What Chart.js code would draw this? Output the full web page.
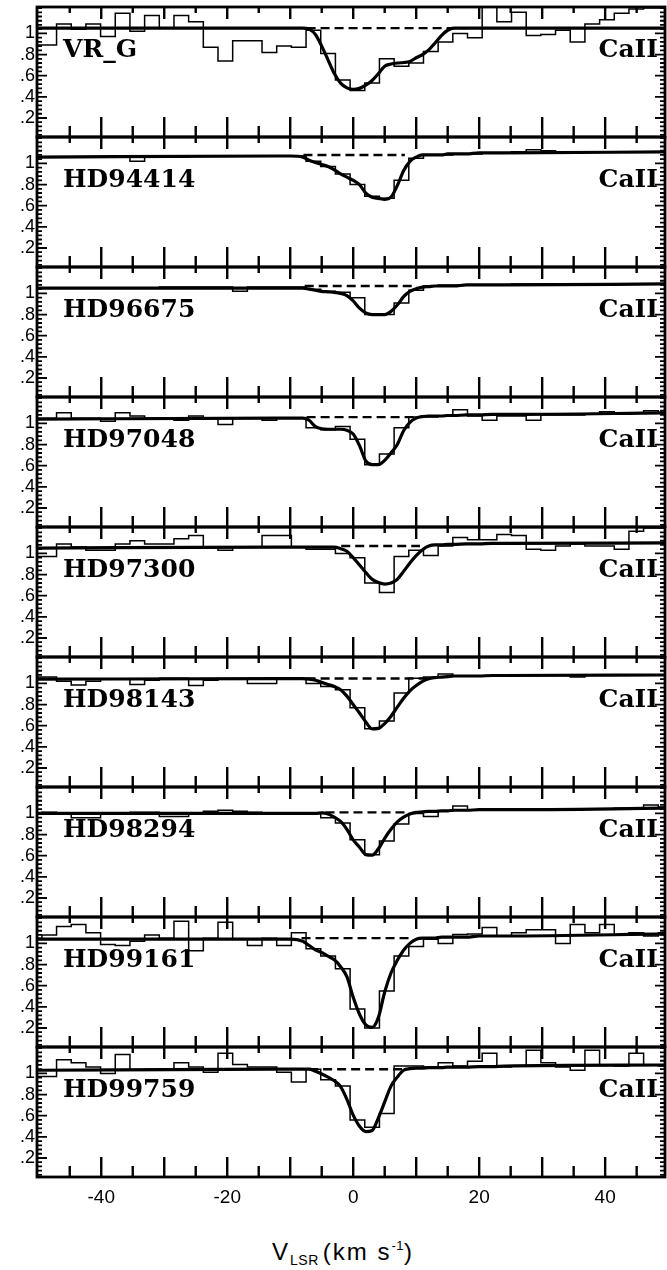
<!DOCTYPE html>
<html>
<head>
<meta charset="utf-8">
<script src="https://cdn.jsdelivr.net/npm/chart.js@4.4.1/dist/chart.umd.min.js"></script>
<style>
  body { margin: 0; background: #fff; }
  #page { position: relative; width: 667px; height: 1270px; overflow: hidden; background: #fff; }
  #page canvas { position: absolute; left: 0; }
  #xtitle { position: absolute; top: 1240px; left: 272px; font: 24px "Liberation Sans", Arial, sans-serif; line-height: 24px; letter-spacing: 2px; color: #000; white-space: nowrap; }
  #xtitle sub { font-size: 14px; vertical-align: baseline; position: relative; top: 5px; margin-right: 4px; letter-spacing: 0.5px; }
  #xtitle sup { font-size: 13px; vertical-align: baseline; position: relative; top: -10px; letter-spacing: 0.5px; }
</style>
</head>
<body>
<div id="page">
  <div id="xtitle">V<sub>LSR</sub>(km s<sup>-1</sup>)</div>
</div>
<script>
// velocity bin centres (km/s), shared by all stars
const velocity = [-50.59, -48.26, -45.93, -43.60, -41.27, -38.94, -36.61, -34.28, -31.95, -29.62,
  -27.29, -24.96, -22.63, -20.30, -17.97, -15.64, -13.31, -10.98, -8.65, -6.32,
  -3.99, -1.66, 0.67, 3.00, 5.33, 7.66, 9.99, 12.32, 14.65, 16.98,
  19.31, 21.64, 23.97, 26.30, 28.63, 30.96, 33.29, 35.62, 37.95, 40.28,
  42.61, 44.94, 47.27, 49.60];

// velocities where the fitted profile is sampled
const fitVelocity = [-50.5, -12, -10, -8, -7, -6, -5, -4, -3, -2, -1, 0, 1, 2, 3, 4, 5, 6, 7, 8,
  9, 10, 11, 12, 13, 14, 15, 16, 18, 20, 22, 24, 50];

const stars = ["VR_G", "HD94414", "HD96675", "HD97048", "HD97300", "HD98143", "HD98294", "HD99161", "HD99759"];

// observed normalised flux (histogram)
const fluxVRG = [0.89, 0.89, 1.09, 1.04, 1.09, 0.97, 1.19, 1.02, 1.17, 1.05,
  1.17, 1.11, 0.87, 0.74, 0.93, 0.93, 0.82, 0.88, 0.87, 1.03,
  0.81, 0.56, 0.46, 0.53, 0.76, 0.69, 0.72, 0.83, 0.92, 1.00,
  0.96, 1.25, 1.11, 1.20, 0.98, 0.99, 1.03, 0.92, 1.09, 1.13,
  1.19, 1.23, 1.24, 1.24];
const fluxHD94414 = [1.06, 1.06, 1.06, 1.06, 1.06, 1.06, 1.06, 1.02, 1.06, 1.06,
  1.06, 1.07, 1.07, 1.07, 1.07, 1.07, 1.07, 1.07, 1.07, 1.02,
  0.97, 0.90, 0.80, 0.69, 0.67, 0.84, 1.05, 1.08, 1.08, 1.09,
  1.09, 1.10, 1.10, 1.11, 1.13, 1.12, 1.11, 1.11, 1.11, 1.11,
  1.11, 1.11, 1.11, 1.11];
const fluxHD96675 = [1.05, 1.05, 1.05, 1.05, 1.05, 1.05, 1.05, 1.05, 1.05, 1.06,
  1.06, 1.06, 1.06, 1.06, 1.02, 1.06, 1.06, 1.06, 1.06, 1.04,
  1.02, 1.01, 0.96, 0.80, 0.80, 0.91, 1.03, 1.07, 1.08, 1.08,
  1.08, 1.08, 1.08, 1.09, 1.09, 1.09, 1.09, 1.09, 1.09, 1.09,
  1.09, 1.09, 1.09, 1.09];
const fluxHD97048 = [1.05, 1.05, 1.10, 1.05, 1.05, 1.02, 1.10, 1.07, 1.05, 1.05,
  1.03, 1.07, 1.05, 0.99, 1.05, 1.05, 1.03, 1.05, 1.05, 0.96,
  0.94, 0.97, 0.85, 0.61, 0.71, 0.96, 1.06, 1.06, 1.07, 1.13,
  1.07, 1.03, 1.07, 1.07, 1.03, 1.08, 1.08, 1.08, 1.09, 1.11,
  1.09, 1.10, 1.12, 1.10];
const fluxHD97300 = [0.97, 0.97, 1.09, 1.06, 1.03, 1.03, 1.09, 1.12, 1.09, 1.09,
  1.14, 1.17, 1.06, 1.03, 1.06, 1.06, 1.17, 1.17, 1.06, 1.04,
  1.04, 1.00, 0.96, 0.72, 0.63, 0.97, 1.03, 0.98, 1.07, 1.15,
  1.13, 1.13, 1.18, 1.17, 1.04, 1.03, 1.07, 1.09, 1.07, 1.07,
  1.04, 1.21, 1.24, 1.24];
const fluxHD98143 = [1.06, 1.06, 1.02, 0.985, 1.02, 1.04, 1.04, 0.99, 1.03, 1.05,
  1.05, 0.98, 1.03, 1.04, 1.04, 1.00, 1.00, 1.05, 1.05, 1.00,
  0.97, 0.94, 0.77, 0.57, 0.645, 0.91, 1.05, 1.06, 1.09, 1.07,
  1.07, 1.07, 1.07, 1.08, 1.08, 1.08, 1.08, 1.06, 1.08, 1.08,
  1.08, 1.08, 1.08, 1.08];
const fluxHD98294 = [1.00, 1.01, 1.00, 0.96, 0.96, 1.00, 1.00, 1.01, 1.01, 0.97,
  0.97, 1.00, 1.02, 1.03, 1.02, 1.01, 1.00, 1.00, 1.00, 1.00,
  0.96, 0.91, 0.75, 0.61, 0.74, 0.90, 1.00, 0.97, 1.02, 1.07,
  1.03, 1.04, 1.03, 1.04, 1.04, 1.03, 1.04, 1.04, 1.04, 1.04,
  1.05, 1.05, 1.08, 1.06];
const fluxHD99161 = [1.05, 1.08, 1.16, 1.18, 1.10, 0.99, 0.98, 1.02, 1.08, 1.05,
  1.21, 0.93, 1.05, 1.20, 1.04, 0.98, 1.05, 0.98, 1.10, 0.95,
  0.88, 0.76, 0.38, 0.20, 0.55, 0.88, 0.97, 1.04, 1.00, 1.085,
  1.09, 1.15, 1.07, 1.10, 1.13, 1.13, 1.00, 1.18, 1.10, 1.18,
  1.08, 1.10, 1.07, 1.10];
const fluxHD99759 = [0.97, 0.97, 1.13, 1.10, 1.06, 1.00, 1.18, 1.03, 1.04, 1.04,
  1.10, 1.06, 1.01, 1.19, 1.085, 1.06, 1.06, 1.01, 0.92, 1.04,
  0.94, 0.88, 0.56, 0.49, 0.62, 1.07, 1.07, 1.06, 1.10, 1.07,
  1.115, 1.19, 1.06, 1.07, 1.22, 1.10, 1.06, 1.03, 1.22, 1.08,
  1.07, 1.19, 1.08, 1.07];

// fitted profiles (continuum + absorption), on fitVelocity
const fitVRG = [1.05, 1.05, 1.05, 1.05, 1.04, 0.99, 0.88, 0.75, 0.62, 0.53, 0.485, 0.47, 0.48, 0.51, 0.555, 0.62,
  0.69, 0.71, 0.72, 0.725, 0.735, 0.77, 0.80, 0.845, 0.91, 0.98, 1.03, 1.05, 1.05, 1.05, 1.05, 1.05, 1.05];
const fitHD94414 = [1.06, 1.07, 1.07, 1.06, 1.03, 1.01, 0.99, 0.97, 0.94, 0.90, 0.87, 0.84, 0.80, 0.72, 0.68, 0.67,
  0.66, 0.68, 0.79, 0.93, 1.02, 1.06, 1.08, 1.08, 1.08, 1.08, 1.09, 1.09, 1.09, 1.10, 1.10, 1.10, 1.11];
const fitHD96675 = [1.05, 1.05, 1.05, 1.05, 1.04, 1.03, 1.02, 1.015, 1.01, 1.00, 0.98, 0.93, 0.86, 0.815, 0.80, 0.80,
  0.80, 0.83, 0.89, 0.97, 1.02, 1.045, 1.06, 1.065, 1.07, 1.07, 1.07, 1.07, 1.08, 1.08, 1.08, 1.08, 1.09];
const fitHD97048 = [1.04, 1.05, 1.05, 1.05, 1.03, 0.97, 0.95, 0.945, 0.945, 0.945, 0.935, 0.90, 0.79, 0.645, 0.61, 0.61,
  0.65, 0.72, 0.80, 0.93, 1.01, 1.05, 1.065, 1.07, 1.07, 1.07, 1.075, 1.075, 1.08, 1.08, 1.085, 1.085, 1.10];
const fitHD97300 = [1.05, 1.06, 1.06, 1.06, 1.06, 1.06, 1.06, 1.06, 1.06, 1.045, 1.02, 0.96, 0.89, 0.82, 0.755, 0.725,
  0.71, 0.72, 0.755, 0.83, 0.91, 0.98, 1.035, 1.07, 1.08, 1.08, 1.085, 1.085, 1.09, 1.09, 1.095, 1.095, 1.10];
const fitHD98143 = [1.04, 1.045, 1.045, 1.045, 1.04, 1.03, 1.01, 0.99, 0.97, 0.94, 0.88, 0.80, 0.72, 0.635, 0.57, 0.575,
  0.62, 0.69, 0.775, 0.86, 0.93, 0.98, 1.02, 1.045, 1.055, 1.06, 1.065, 1.07, 1.07, 1.07, 1.075, 1.075, 1.08];
const fitHD98294 = [1.00, 1.00, 1.00, 1.00, 1.00, 1.00, 1.005, 0.995, 0.965, 0.925, 0.85, 0.75, 0.68, 0.61, 0.605, 0.665,
  0.765, 0.85, 0.92, 0.965, 0.995, 1.01, 1.015, 1.02, 1.02, 1.025, 1.025, 1.03, 1.03, 1.035, 1.035, 1.035, 1.05];
const fitHD99161 = [1.04, 1.04, 1.04, 1.02, 0.98, 0.94, 0.915, 0.88, 0.845, 0.78, 0.685, 0.49, 0.33, 0.23, 0.205, 0.30,
  0.54, 0.72, 0.84, 0.935, 1.00, 1.04, 1.05, 1.05, 1.05, 1.06, 1.06, 1.06, 1.06, 1.07, 1.07, 1.07, 1.09];
const fitHD99759 = [1.03, 1.04, 1.04, 1.04, 1.04, 1.02, 0.995, 0.965, 0.93, 0.875, 0.755, 0.605, 0.50, 0.45, 0.46, 0.58,
  0.73, 0.88, 0.965, 1.03, 1.045, 1.05, 1.05, 1.055, 1.055, 1.055, 1.06, 1.06, 1.06, 1.065, 1.065, 1.07, 1.08];

// dashed continuum under each absorption
const dashStart = [-7.4, -7.9, -7.7, -7.4, -1.9, -7.4, -4.4, -8.2, -7.0];
const dashEnd = [18.1, 8.2, 10.1, 9.8, 10.6, 11.8, 8.8, 9.3, 8.0];
const dashLevel = [1.05, 1.08, 1.07, 1.06, 1.07, 1.046, 1.01, 1.05, 1.04];

const fluxes = [fluxVRG, fluxHD94414, fluxHD96675, fluxHD97048, fluxHD97300, fluxHD98143, fluxHD98294, fluxHD99161, fluxHD99759];
const fits = [fitVRG, fitHD94414, fitHD96675, fitHD97048, fitHD97300, fitHD98143, fitHD98294, fitHD99161, fitHD99759];

const xMajor = [-40, -30, -20, -10, 0, 10, 20, 30, 40];
const xMinor = [-45, -35, -25, -15, -5, 5, 15, 25, 35, 45];
const xLabels = [-40, -20, 0, 20, 40];
const yLabels = [0.2, 0.4, 0.6, 0.8, 1];

const panelTop = 7;
const panelHeight = 130;
const page = document.getElementById("page");

// x position of a velocity, straight from the x scale's range and the plot box
function xPixel(chart, v) {
  const a = chart.chartArea;
  const sx = chart.scales.x;
  let px = sx.getPixelForValue(v);
  if (!isFinite(px) || px < a.left - 1 || px > a.right + 1) {
    px = a.left + (v - sx.min) / (sx.max - sx.min) * (a.right - a.left);
  }
  return px;
}

// box and inward tick marks on all four sides
const framePlugin = {
  id: "frame",
  afterDraw(chart) {
    const { ctx, chartArea: a, scales: { y } } = chart;
    ctx.save();
    ctx.strokeStyle = "#000";
    ctx.lineCap = "butt";
    ctx.lineWidth = 2.4;
    const xTick = (v, up, down) => {
      const px = xPixel(chart, v);
      ctx.beginPath();
      ctx.moveTo(px, a.bottom);
      ctx.lineTo(px, a.bottom - up);
      ctx.moveTo(px, a.top);
      ctx.lineTo(px, a.top + down);
      ctx.stroke();
    };
    xMajor.forEach(v => xTick(v, 20, 12));
    xMinor.forEach(v => xTick(v, 11, 6));

    ctx.lineWidth = 1.8;
    ctx.beginPath();
    for (let i = 1; i <= 31; i++) {
      const v = i * 0.04;
      const major = yLabels.some(t => Math.abs(t - v) < 1e-6);
      const len = major ? 10 : 5;
      const py = y.getPixelForValue(v);
      ctx.moveTo(a.left, py); ctx.lineTo(a.left + len, py);
      ctx.moveTo(a.right, py); ctx.lineTo(a.right - len, py);
    }
    ctx.stroke();
    ctx.lineWidth = 2.8;
    ctx.strokeRect(a.left, a.top, a.right - a.left, a.bottom - a.top);
    ctx.restore();
  }
};

// star name on the left, ion on the right
const namePlugin = {
  id: "names",
  afterDatasetsDraw(chart, args, opts) {
    const { ctx, chartArea: a, scales: { y } } = chart;
    const py = y.getPixelForValue(0.78);
    ctx.save();
    ctx.fillStyle = "#000";
    ctx.font = 'bold 25px "DejaVu Serif"';
    ctx.textAlign = "left";
    ctx.fillText(opts.star, a.left + 26, py);
    ctx.textAlign = "right";
    ctx.fillText("CaII", a.right - 7, py);
    ctx.restore();
  }
};

stars.forEach((star, p) => {
  const last = p === stars.length - 1;
  const canvas = document.createElement("canvas");
  canvas.width = 667;
  canvas.height = last ? panelHeight + 2 + 42 : panelHeight + 4;
  canvas.style.top = (panelTop + p * panelHeight - 2) + "px";
  page.appendChild(canvas);

  new Chart(canvas, {
    type: "line",
    data: {
      datasets: [
        {
          data: velocity.map((v, i) => ({ x: v, y: fluxes[p][i] })),
          stepped: "middle",
          borderColor: "#000",
          borderWidth: 1.5,
          pointRadius: 0
        },
        {
          data: fitVelocity.map((v, i) => ({ x: v, y: fits[p][i] })),
          cubicInterpolationMode: "monotone",
          borderColor: "#000",
          borderWidth: 3.2,
          pointRadius: 0
        },
        {
          data: [{ x: dashStart[p], y: dashLevel[p] }, { x: dashEnd[p], y: dashLevel[p] }],
          borderColor: "#000",
          borderWidth: 2.4,
          borderDash: [9, 5],
          pointRadius: 0
        }
      ]
    },
    options: {
      responsive: false,
      animation: false,
      events: [],
      layout: { padding: { top: 2, right: 2, bottom: last ? 0 : 2, left: 0 } },
      plugins: {
        legend: { display: false },
        tooltip: { enabled: false },
        names: { star: star }
      },
      scales: {
        x: {
          type: "linear",
          min: -50.2,
          max: 49.5,
          display: last,
          afterBuildTicks: s => { s.ticks = xLabels.map(v => ({ value: v })); },
          afterFit: s => {
            s.height = last ? 42 : 0;
            s.paddingLeft = 0; s.paddingRight = 0;
          },
          grid: { display: false, drawTicks: false },
          border: { display: false },
          ticks: {
            color: "#000",
            font: { family: '"Liberation Sans", Arial, sans-serif', size: 19 },
            padding: 9,
            autoSkip: false,
            maxRotation: 0,
            callback: v => String(v)
          }
        },
        y: {
          min: 0.02,
          max: 1.25,
          afterBuildTicks: s => { s.ticks = yLabels.map(v => ({ value: v })); },
          afterFit: s => {
            s.width = 37;
            s.paddingTop = 0; s.paddingBottom = 0;
          },
          grid: { display: false, drawTicks: false },
          border: { display: false },
          ticks: {
            color: "#000",
            font: { family: '"Liberation Sans", Arial, sans-serif', size: 18 },
            padding: 2,
            autoSkip: false,
            callback: v => (v === 1 ? "1" : String(v).replace(/^0\./, "."))
          }
        }
      }
    },
    plugins: [framePlugin, namePlugin]
  });
});
</script>
</body>
</html>
